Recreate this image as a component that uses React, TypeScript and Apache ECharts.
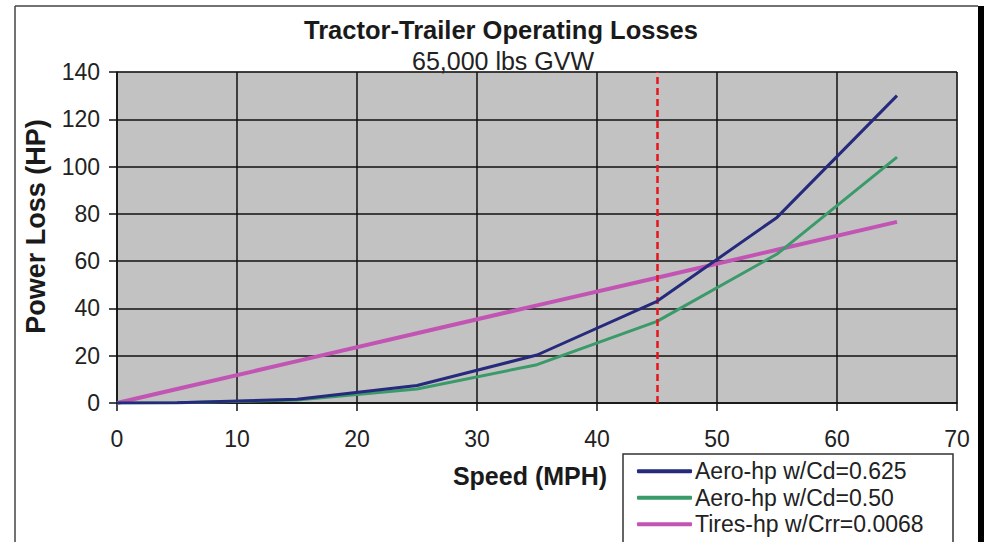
import React, { useEffect, useRef } from "react";
import * as echarts from "echarts";

const titleText = "Tractor-Trailer Operating Losses";
const subtitleText = "65,000 lbs GVW";
const xAxisName = "Speed (MPH)";
const yAxisName = "Power Loss (HP)";

const speeds = [0, 5, 15, 25, 35, 45, 55, 65];
const aeroCd0625 = [0, 0.1, 1.6, 7.4, 20.3, 43, 78.5, 130];
const aeroCd050 = [0, 0.1, 1.3, 5.9, 16.2, 34.5, 63, 104];
const tiresCrr = [0, 5.9, 17.7, 29.5, 41.3, 53, 64.8, 76.6];
const seriesNames = ["Aero-hp w/Cd=0.625", "Aero-hp w/Cd=0.50", "Tires-hp w/Crr=0.0068"];
const markerSpeed = 45;

const FONT = "'Liberation Sans', Arial, sans-serif";

export default function App() {
  const ref = useRef<HTMLDivElement>(null);
  useEffect(() => {
    if (!ref.current) return;
    const chart = echarts.init(ref.current, undefined, { renderer: "svg" });
    const pair = (ys: number[]) => speeds.map((x, i) => [x, ys[i]]);
    chart.setOption({
      animation: false,
      backgroundColor: "#ffffff",
      textStyle: { fontFamily: FONT },
      title: [
        {
          text: titleText,
          left: 496,
          textAlign: "center",
          top: 12,
          textStyle: { fontFamily: FONT, fontSize: 25.5, fontWeight: "bold", color: "#1a1a1a" },
        },
        {
          text: subtitleText,
          left: 498,
          textAlign: "center",
          top: 43,
          textStyle: { fontFamily: FONT, fontSize: 25, fontWeight: "normal", color: "#222" },
        },
      ],
      graphic: [
        {
          type: "line",
          z: 0,
          shape: { x1: 15, y1: 6, x2: 978, y2: 6 },
          style: { stroke: "#444", lineWidth: 1.5 },
        },
        {
          type: "line",
          z: 0,
          shape: { x1: 15, y1: 6, x2: 15, y2: 542 },
          style: { stroke: "#444", lineWidth: 1.5 },
        },
        {
          type: "rect",
          z: 0,
          shape: { x: 978, y: 6, width: 6, height: 536 },
          style: { fill: "#000" },
        },
        {
          type: "rect",
          z: 0,
          shape: { x: 623, y: 454, width: 330, height: 100 },
          style: { fill: "#fff", stroke: "#333", lineWidth: 1.5 },
        },
      ],
      legend: {
        orient: "vertical",
        left: 637,
        top: 458,
        padding: 0,
        itemGap: 0,
        itemWidth: 55,
        itemHeight: 4,
        icon: "roundRect",
        z: 10,
        data: seriesNames,
        textStyle: { fontFamily: FONT, fontSize: 23, color: "#222", lineHeight: 26.5, padding: [0, 0, 0, -2] },
      },
      grid: {
        left: 117,
        right: 27,
        top: 72,
        bottom: 139,
        show: true,
        backgroundColor: "#c2c2c2",
        borderColor: "#9a9a9a",
        borderWidth: 1,
      },
      xAxis: {
        type: "value",
        min: 0,
        max: 70,
        interval: 10,
        name: xAxisName,
        nameLocation: "middle",
        nameGap: 60,
        nameTextStyle: { fontFamily: FONT, fontSize: 25, fontWeight: "bold", color: "#1a1a1a", padding: [0, 14, 0, 0] },
        axisLine: { show: true, onZero: false, lineStyle: { color: "#111", width: 1.5 } },
        axisTick: { show: true, inside: false, length: 8, lineStyle: { color: "#111", width: 1.5 } },
        axisLabel: { margin: 24, fontFamily: FONT, fontSize: 23, color: "#222" },
        splitLine: { show: true, lineStyle: { color: "#111", width: 1.5 } },
      },
      yAxis: {
        type: "value",
        min: 0,
        max: 140,
        interval: 20,
        name: yAxisName,
        nameLocation: "middle",
        nameGap: 68,
        nameRotate: 90,
        nameTextStyle: { fontFamily: FONT, fontSize: 27, fontWeight: "bold", color: "#1a1a1a", padding: [0, 0, 0, 22] },
        axisLine: { show: true, lineStyle: { color: "#111", width: 1.5 } },
        axisTick: { show: true, inside: false, length: 8, lineStyle: { color: "#111", width: 1.5 } },
        axisLabel: { margin: 17, fontFamily: FONT, fontSize: 23, color: "#222" },
        splitLine: { show: true, lineStyle: { color: "#111", width: 1.5 } },
      },
      series: [
        {
          name: seriesNames[0],
          type: "line",
          data: pair(aeroCd0625),
          showSymbol: false,
          symbol: "none",
          z: 5,
          itemStyle: { color: "#262a7c" },
          lineStyle: { color: "#262a7c", width: 3 },
        },
        {
          name: seriesNames[1],
          type: "line",
          data: pair(aeroCd050),
          showSymbol: false,
          symbol: "none",
          z: 4,
          itemStyle: { color: "#3a9a6a" },
          lineStyle: { color: "#3a9a6a", width: 3 },
        },
        {
          name: seriesNames[2],
          type: "line",
          data: pair(tiresCrr),
          showSymbol: false,
          symbol: "none",
          z: 3,
          itemStyle: { color: "#c254b4" },
          lineStyle: { color: "#c254b4", width: 4 },
          markLine: {
            silent: true,
            symbol: "none",
            label: { show: false },
            lineStyle: { color: "#e8141a", type: [7, 4], width: 2.5 },
            data: [{ xAxis: markerSpeed }],
          },
        },
      ],
    });
    return () => chart.dispose();
  }, []);
  return (
    <div
      ref={ref}
      style={{ position: "fixed", left: 0, top: 0, width: 984, height: 542 }}
    />
  );
}
